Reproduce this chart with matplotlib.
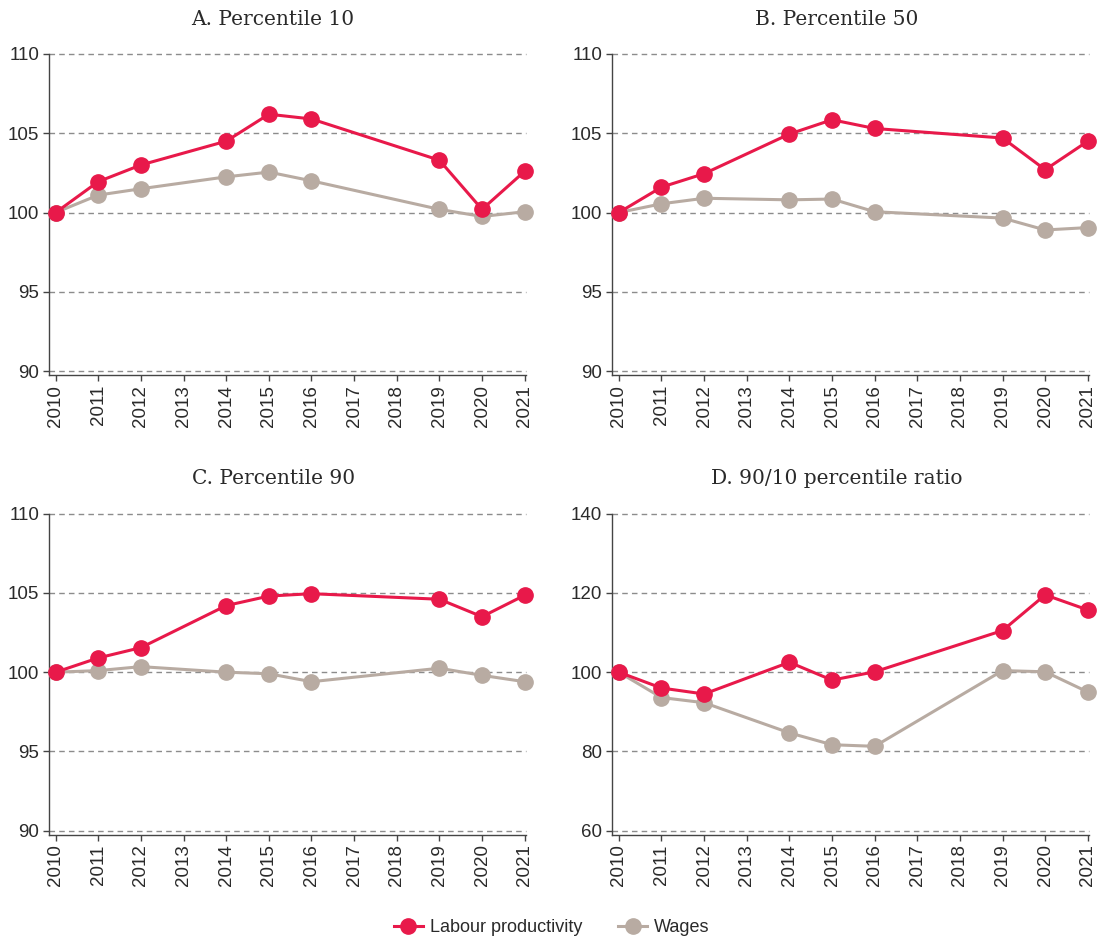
import matplotlib
matplotlib.use("Agg")
import matplotlib.pyplot as plt
from matplotlib.lines import Line2D

# Years with observations (2013, 2017, 2018 missing)
years = [2010, 2011, 2012, 2014, 2015, 2016, 2019, 2020, 2021]
tick_years = list(range(2010, 2022))

# Panel A: percentile 10
p10_prod = [100.0, 101.95, 103.0, 104.5, 106.2, 105.9, 103.3, 100.2, 102.6]
p10_wages = [100.0, 101.1, 101.5, 102.25, 102.55, 102.0, 100.2, 99.75, 100.05]

# Panel B: percentile 50
p50_prod = [100.0, 101.6, 102.45, 104.95, 105.85, 105.3, 104.7, 102.7, 104.5]
p50_wages = [100.0, 100.55, 100.9, 100.8, 100.85, 100.05, 99.65, 98.9, 99.05]

# Panel C: percentile 90
p90_prod = [100.0, 100.9, 101.55, 104.2, 104.8, 104.95, 104.6, 103.5, 104.85]
p90_wages = [100.0, 100.1, 100.35, 100.0, 99.9, 99.4, 100.25, 99.8, 99.4]

# Panel D: 90/10 ratio
ratio_prod = [100.0, 96.0, 94.5, 102.5, 98.0, 100.1, 110.5, 119.5, 115.7]
ratio_wages = [100.0, 93.6, 92.3, 84.7, 81.7, 81.3, 100.4, 100.1, 95.0]

titles = ["A. Percentile 10", "B. Percentile 50", "C. Percentile 90", "D. 90/10 percentile ratio"]
yticks_small = [90, 95, 100, 105, 110]
yticks_ratio = [60, 80, 100, 120, 140]

RED = "#E8194A"
GREY = "#B8ABA2"
AXIS = "#444444"
TEXT = "#2a2a2a"

plt.rcParams["font.family"] = ["Liberation Sans Narrow", "Liberation Sans", "DejaVu Sans"]

fig = plt.figure(figsize=(10.98, 9.40), dpi=100)

# [left, bottom, width, height] in figure fractions
boxes = [
    [0.0445, 0.601, 0.4345, 0.3416],
    [0.5574, 0.601, 0.4345, 0.3416],
    [0.0445, 0.112, 0.4345, 0.3416],
    [0.5574, 0.112, 0.4345, 0.3416],
]

panels = [
    (p10_prod, p10_wages, yticks_small),
    (p50_prod, p50_wages, yticks_small),
    (p90_prod, p90_wages, yticks_small),
    (ratio_prod, ratio_wages, yticks_ratio),
]

for box, title, (prod, wages, yt) in zip(boxes, titles, panels):
    ax = fig.add_axes(box)
    step = yt[1] - yt[0]
    ax.set_ylim(yt[0] - 0.05 * step, yt[-1])
    ax.set_xlim(2009.84, 2021.03)
    ax.set_yticks(yt)
    ax.set_xticks(tick_years)
    ax.set_xticklabels([str(y) for y in tick_years], rotation=90)

    for v in yt:
        ax.axhline(v, color="#8c8c8c", lw=1.0, ls=(0, (4, 3)), zorder=0, clip_on=False)

    ax.plot(years, wages, color=GREY, lw=2.2, marker="o", ms=11, zorder=3, clip_on=False)
    ax.plot(years, prod, color=RED, lw=2.2, marker="o", ms=11, zorder=4, clip_on=False)

    for s in ["top", "right"]:
        ax.spines[s].set_visible(False)
    for s in ["left", "bottom"]:
        ax.spines[s].set_color(AXIS)
        ax.spines[s].set_linewidth(1.0)
    ax.tick_params(axis="both", colors=AXIS, labelsize=13.5, length=4, width=1.0, pad=3)
    for lab in ax.get_xticklabels() + ax.get_yticklabels():
        lab.set_color(TEXT)

    # title centred over the panel including its tick labels
    ax.set_title(title, fontsize=14.5, family=["DejaVu Serif"], color=TEXT,
                 pad=21, x=0.47)

handles = [
    Line2D([], [], color=RED, lw=2.2, marker="o", ms=11),
    Line2D([], [], color=GREY, lw=2.2, marker="o", ms=11),
]
fig.legend(handles, ["Labour productivity", "Wages"], loc="center",
           bbox_to_anchor=(0.5025, 0.013), ncol=2, frameon=False, fontsize=13,
           handlelength=1.6, columnspacing=2.0, handletextpad=0.4,
           labelcolor=TEXT)

fig.savefig("out.png", dpi=100)
